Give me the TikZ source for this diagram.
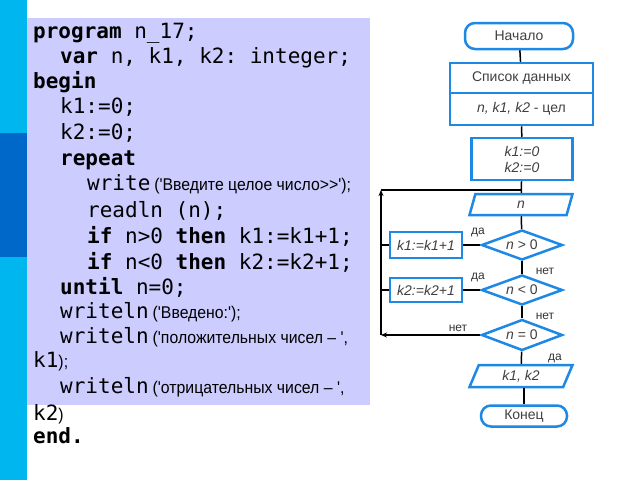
\documentclass[tikz,border=0pt]{standalone}
\usepackage{fontspec}
\setmainfont{Liberation Sans}
\setmonofont{DejaVu Sans Mono}
\newfontfamily\narrowsans[FakeStretch=0.93]{Liberation Sans}
\usetikzlibrary{shapes.geometric,arrows.meta}
\definecolor{barcyan}{RGB}{0,182,238}
\definecolor{bardark}{RGB}{0,104,200}
\definecolor{codebg}{RGB}{204,204,255}
\definecolor{flowblue}{RGB}{30,136,229}
\definecolor{flowtext}{RGB}{64,64,64}
\newcommand{\kw}[1]{\textbf{#1}}
\newcommand{\rem}[1]{\hspace*{4pt}{\narrowsans\fontsize{17}{20}\selectfont #1}}
\newcommand{\ind}{\hspace*{27pt}}
\begin{document}
\begin{tikzpicture}[x=1pt,y=-1pt]
  \tikzset{codeline/.style={anchor=base west,inner sep=0pt,font=\ttfamily\fontsize{21}{25}\selectfont}}
  \tikzset{block/.style={draw=flowblue,line width=2.5pt,fill=white,inner sep=0pt,text=flowtext,font=\fontsize{14}{16}\selectfont,align=center}}
  \tikzset{term/.style={block,rounded corners=10pt}}
  \tikzset{decide/.style={block,diamond,aspect=2.7}}
  \tikzset{io/.style={block,trapezium,trapezium left angle=52,trapezium right angle=128,trapezium stretches body}}
  \tikzset{flow/.style={line width=1.5pt}}
  \tikzset{lbl/.style={inner sep=0pt,text=black!80,font=\fontsize{12}{14}\selectfont}}
  \useasboundingbox (0,0) rectangle (640,480);
  % background bars and code panel
  \fill[barcyan] (0,0) rectangle (27,480);
  \fill[bardark] (0,133) rectangle (27,257);
  \fill[codebg] (27,18) rectangle (370,405);
  % program text
  \node[codeline] (l1) at (33,38) {\kw{program} n\_17;};
  \node[codeline] (l2) at (33,63) {\ind\kw{var} n, k1, k2: integer;};
  \node[codeline] (l3) at (33,88) {\kw{begin}};
  \node[codeline] (l4) at (33,113) {\ind k1:=0;};
  \node[codeline] (l5) at (33,139) {\ind k2:=0;};
  \node[codeline] (l6) at (33,165) {\ind\kw{repeat}};
  \node[codeline] (l7) at (33,190) {\ind\ind write\rem{('Введите целое число{>}{>}');}};
  \node[codeline] (l8) at (33,217) {\ind\ind readln (n);};
  \node[codeline] (l9) at (33,243) {\ind\ind\kw{if} n>0 \kw{then} k1:=k1+1;};
  \node[codeline] (l10) at (33,269) {\ind\ind\kw{if} n<0 \kw{then} k2:=k2+1;};
  \node[codeline] (l11) at (33,294) {\ind\kw{until} n=0;};
  \node[codeline] (l12) at (33,318) {\ind writeln\rem{('Введено:');}};
  \node[codeline] (l13) at (33,343) {\ind writeln\rem{('положительных чисел – ',}};
  \node[codeline] (l14) at (33,367) {k1{\narrowsans\fontsize{17}{20}\selectfont);}};
  \node[codeline] (l15) at (33,393) {\ind writeln\rem{('отрицательных чисел – ',}};
  \node[codeline] (l16) at (33,420) {k2{\narrowsans\fontsize{17}{20}\selectfont)}};
  \node[codeline] (l17) at (33,443) {\kw{end.}};
  % flowchart
  \node[term,minimum width=108pt,minimum height=26pt] (start) at (519,36) {Начало};
  \node[block,minimum width=143pt,minimum height=30pt] (data) at (521.5,78) {Список данных};
  \node[block,minimum width=143pt,minimum height=32pt] (vars) at (521.5,109) {\textit{n, k1, k2} - цел};
  \node[block,minimum width=101pt,minimum height=42pt,font=\itshape\fontsize{14}{16}\selectfont] (init) at (522,159) {k1:=0\\k2:=0};
  \node[io,minimum width=103pt,minimum height=21pt] (inp) at (521,204.5) {\textit{n}};
  \node[decide,minimum width=81pt,minimum height=30pt] (d1) at (522,245) {\textit{n} > 0};
  \node[decide,minimum width=81pt,minimum height=30pt] (d2) at (522,290) {\textit{n} < 0};
  \node[decide,minimum width=81pt,minimum height=31pt] (d3) at (522,335) {\textit{n} = 0};
  \node[io,minimum width=103pt,minimum height=22pt] (out) at (521,376) {\textit{k1, k2}};
  \node[term,minimum width=86pt,minimum height=21pt] (stop) at (524,416) {Конец};
  \node[block,minimum width=72pt,minimum height=26pt,font=\itshape\fontsize{14}{16}\selectfont] (k1b) at (426,245) {k1:=k1+1};
  \node[block,minimum width=72pt,minimum height=24pt,font=\itshape\fontsize{14}{16}\selectfont] (k2b) at (426,290) {k2:=k2+1};
  \coordinate (lb) at (381,335);
  \coordinate (lt) at (381,190);
  \coordinate (join) at (521,190);
  % connectors
  \draw[flow] (start) -- (data);
  \draw[flow] (vars) -- (init);
  \draw[flow] (init) -- (inp);
  \draw[flow] (inp) -- (d1);
  \draw[flow] (d1) -- (d2);
  \draw[flow] (d2) -- (d3);
  \draw[flow] (d3) -- (out);
  \draw[flow] (out.south -| stop) -- (stop);
  \draw[flow] (d1) -- (k1b);
  \draw[flow] (d2) -- (k2b);
  \draw[flow] (k1b.west) -- (k1b.west -| lb);
  \draw[flow] (k2b.west) -- (k2b.west -| lb);
  \draw[flow,-{Stealth[length=6pt,width=5pt]}] (d3.west) -- (lb);
  \draw[flow,-{Stealth[length=6pt,width=5pt]}] (lb) -- (lt);
  \draw[flow] (lt) -- (join);
  % branch labels
  \node[lbl] (y1) at (478,232) {да};
  \node[lbl] (n1) at (545,271) {нет};
  \node[lbl] (y2) at (478,277) {да};
  \node[lbl] (n2) at (545,316) {нет};
  \node[lbl] (n3) at (458,328) {нет};
  \node[lbl] (y3) at (555,358) {да};
\end{tikzpicture}
\end{document}
